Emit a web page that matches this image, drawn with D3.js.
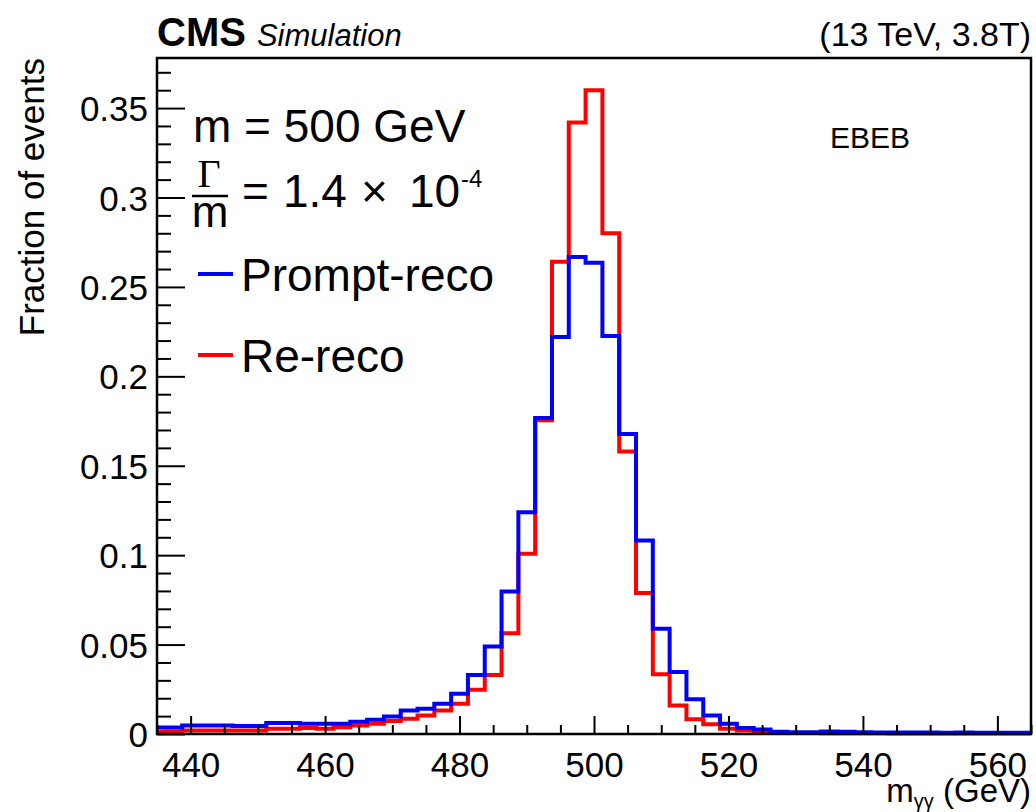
<!DOCTYPE html>
<html>
<head>
<meta charset="utf-8">
<script src="https://d3js.org/d3.v7.min.js"></script>
<style>
  body { margin: 0; background: #fff; }
  text { font-family: "Liberation Sans", Arial, Helvetica, sans-serif; fill: #000; }
</style>
</head>
<body>
<div id="my_dataviz"></div>
<script>
// histogram bins (GeV), 2.5 GeV wide, centred on these values
var binWidth = 2.5;
var binCenters = [435, 437.5, 440, 442.5, 445, 447.5, 450, 452.5, 455, 457.5,
                  460, 462.5, 465, 467.5, 470, 472.5, 475, 477.5, 480, 482.5,
                  485, 487.5, 490, 492.5, 495, 497.5, 500, 502.5, 505, 507.5,
                  510, 512.5, 515, 517.5, 520, 522.5, 525, 527.5, 530, 532.5,
                  535, 537.5, 540, 542.5, 545, 547.5, 550, 552.5, 555, 557.5,
                  560, 562.5, 565];

var promptReco = [0.0037, 0.0037, 0.0048, 0.0048, 0.0047, 0.0045, 0.0045, 0.0062, 0.0062, 0.0057,
                  0.0057, 0.0057, 0.0068, 0.0080, 0.0098, 0.0132, 0.0141, 0.0169, 0.0225, 0.0330,
                  0.0489, 0.0797, 0.1240, 0.1767, 0.2220, 0.2667, 0.2635, 0.2225, 0.1678, 0.1082,
                  0.0588, 0.0347, 0.0195, 0.0104, 0.0057, 0.0033, 0.0025, 0.0013, 0.0010, 0.0010,
                  0.0014, 0.0012, 0.0010, 0.0009, 0.0009, 0.0008, 0.0008, 0.0007, 0.0008, 0.0007,
                  0.0007, 0.0007, 0.0007];

var reReco = [0.0012, 0.0014, 0.0020, 0.0020, 0.0020, 0.0020, 0.0020, 0.0030, 0.0030, 0.0034,
              0.0029, 0.0038, 0.0048, 0.0057, 0.0072, 0.0085, 0.0104, 0.0132, 0.0169, 0.0247,
              0.0330, 0.0564, 0.1008, 0.1754, 0.2640, 0.3420, 0.3600, 0.2800, 0.1580, 0.0788,
              0.0334, 0.0160, 0.0082, 0.0055, 0.0030, 0.0020, 0.0010, 0.0007, 0.0005, 0.0005,
              0.0004, 0.0004, 0.0004, 0.0004, 0.0003, 0.0003, 0.0003, 0.0003, 0.0003, 0.0003,
              0.0003, 0.0003, 0.0003];

var xMajorTicks = [440, 460, 480, 500, 520, 540, 560];
var yMajorTicks = [0, 0.05, 0.1, 0.15, 0.2, 0.25, 0.3, 0.35];
var yTickLabels = ["0", "0.05", "0.1", "0.15", "0.2", "0.25", "0.3", "0.35"];

// set the dimensions and margins of the graph
var margin = {top: 58, right: 5, bottom: 78, left: 157},
    width = 1036 - margin.left - margin.right,
    height = 812 - margin.top - margin.bottom;

var svg = d3.select("#my_dataviz")
  .append("svg")
    .attr("width", width + margin.left + margin.right)
    .attr("height", height + margin.top + margin.bottom)
    .style("display", "block")
  .append("g")
    .attr("transform", "translate(" + margin.left + "," + margin.top + ")");

var x = d3.scaleLinear().domain([435, 565]).range([0, width]);
var y = d3.scaleLinear().domain([0, 0.378]).range([height, 0]);

svg.append("clipPath")
    .attr("id", "frameClip")
  .append("rect")
    .attr("x", 0).attr("y", -20)
    .attr("width", width).attr("height", height + 30);

// step outline from bin values
function steps(values) {
  var pts = values.map(function(v, i) { return [binCenters[i] - binWidth / 2, v]; });
  pts.push([binCenters[binCenters.length - 1] + binWidth / 2, values[values.length - 1]]);
  return pts;
}

var line = d3.line()
    .x(function(d) { return x(d[0]); })
    .y(function(d) { return y(d[1]); })
    .curve(d3.curveStepAfter);

var hists = svg.append("g").attr("clip-path", "url(#frameClip)");

hists.append("path")
    .datum(steps(reReco))
    .attr("d", line)
    .attr("fill", "none")
    .attr("stroke", "#ff0000")
    .attr("stroke-width", 4);

hists.append("path")
    .datum(steps(promptReco))
    .attr("d", line)
    .attr("fill", "none")
    .attr("stroke", "#0000ff")
    .attr("stroke-width", 4);

// axes, ticks pointing inwards
var xMinor = d3.range(435, 566, 5).filter(function(v) { return xMajorTicks.indexOf(v) < 0; });
var yMinor = d3.range(1, 38).map(function(i) { return i / 100; })
    .filter(function(v) { return Math.round(v * 100) % 5 !== 0; });

svg.append("g")
    .attr("transform", "translate(0," + height + ")")
    .call(d3.axisBottom(x).tickValues(xMinor).tickSizeInner(-9).tickSizeOuter(0).tickFormat(""))
    .call(g => g.select(".domain").remove());

svg.append("g")
    .attr("transform", "translate(0," + height + ")")
    .call(d3.axisBottom(x).tickValues(xMajorTicks).tickSizeInner(-18).tickSizeOuter(0))
    .call(g => g.select(".domain").remove())
    .call(g => g.selectAll("text")
        .attr("y", 43).attr("dy", null)
        .style("font-size", "35px").style("font-family", "Liberation Sans, Arial, sans-serif"));

svg.append("g")
    .call(d3.axisLeft(y).tickValues(yMinor).tickSizeInner(-14).tickSizeOuter(0).tickFormat(""))
    .call(g => g.select(".domain").remove());

svg.append("g")
    .call(d3.axisLeft(y).tickValues(yMajorTicks).tickSizeInner(-28).tickSizeOuter(0)
      .tickFormat(function(d, i) { return yTickLabels[i]; }))
    .call(g => g.select(".domain").remove())
    .call(g => g.selectAll("text")
        .attr("x", -9).attr("dy", "0.36em")
        .style("font-size", "35px").style("font-family", "Liberation Sans, Arial, sans-serif"));

svg.selectAll(".tick line").attr("stroke", "#000").attr("stroke-width", 2);

// frame
svg.append("rect")
    .attr("width", width).attr("height", height)
    .attr("fill", "none")
    .attr("stroke", "#000")
    .attr("stroke-width", 2.5);

// axis titles
svg.append("text")
    .attr("transform", "rotate(-90)")
    .attr("x", 0).attr("y", 44 - margin.left)
    .attr("text-anchor", "end")
    .style("font-size", "35px")
    .text("Fraction of events");

var xt = svg.append("text")
    .attr("x", width).attr("y", height + 68)
    .attr("text-anchor", "end")
    .style("font-size", "33px");
xt.append("tspan").text("m");
xt.append("tspan").attr("dy", 6).style("font-size", "20px").text("γγ");
xt.append("tspan").attr("dy", -6).text(" (GeV)");

// header
var head = svg.append("text").attr("x", 0).attr("y", -12);
head.append("tspan").style("font-weight", "bold").style("font-size", "40px").text("CMS");
head.append("tspan").attr("dx", 11).style("font-style", "italic").style("font-size", "31px").text("Simulation");

svg.append("text")
    .attr("x", width).attr("y", -12)
    .attr("text-anchor", "end")
    .style("font-size", "34px")
    .text("(13 TeV, 3.8T)");

svg.append("text")
    .attr("x", x(500) + 236).attr("y", 90)
    .style("font-size", "30px")
    .text("EBEB");

// mass and width labels
svg.append("text")
    .attr("x", 36).attr("y", 84)
    .style("font-size", "46px")
    .text("m = 500 GeV");

svg.append("text")
    .attr("x", 52).attr("y", 129)
    .attr("text-anchor", "middle")
    .style("font-family", "Liberation Serif, Times New Roman, serif")
    .style("font-size", "40px")
    .text("Γ");
svg.append("line")
    .attr("x1", 35).attr("x2", 71)
    .attr("y1", 138).attr("y2", 138)
    .attr("stroke", "#000").attr("stroke-width", 2.5);
svg.append("text")
    .attr("x", 53).attr("y", 169)
    .attr("text-anchor", "middle")
    .style("font-size", "44px")
    .text("m");

var wt = svg.append("text").attr("y", 149).style("font-size", "46px");
wt.append("tspan").attr("x", 85).text("=");
wt.append("tspan").attr("x", 126).text("1.4");
wt.append("tspan").attr("x", 204).text("×");
wt.append("tspan").attr("x", 252).text("10");
wt.append("tspan").attr("x", 304).attr("dy", -20).style("font-size", "24px").text("-4");

// legend
var legend = [
  {name: "Prompt-reco", color: "#0000ff"},
  {name: "Re-reco", color: "#ff0000"}
];
legend.forEach(function(d, i) {
  var ly = 216 + i * 81;
  svg.append("line")
      .attr("x1", 41).attr("x2", 76)
      .attr("y1", ly).attr("y2", ly)
      .attr("stroke", d.color).attr("stroke-width", 4);
  svg.append("text")
      .attr("x", 84).attr("y", ly + 17)
      .style("font-size", "46px")
      .text(d.name);
});
</script>
</body>
</html>
